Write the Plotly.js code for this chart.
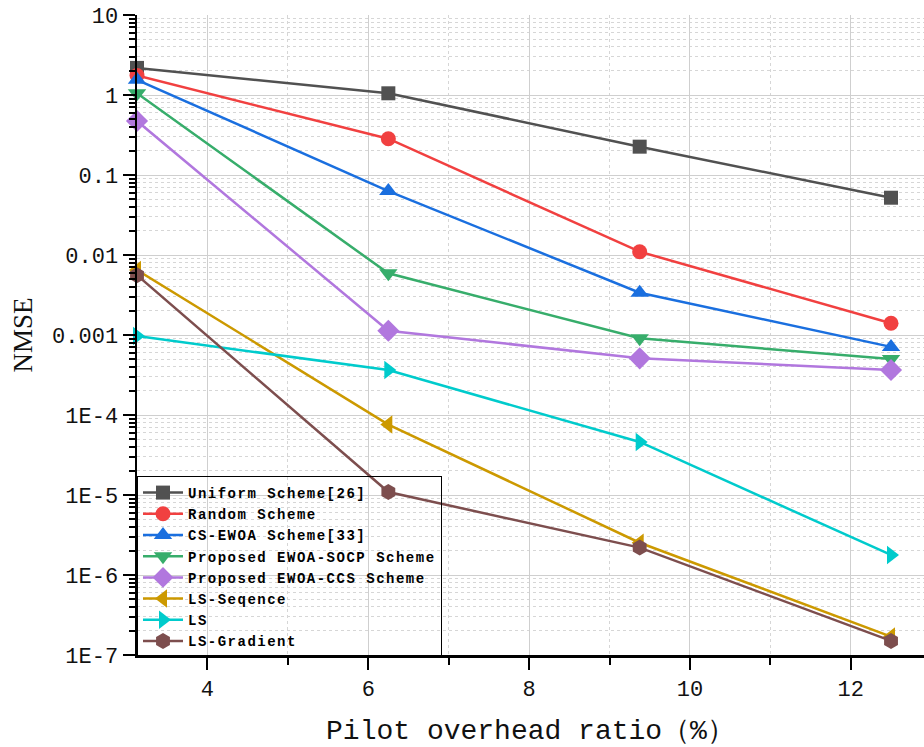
<!DOCTYPE html>
<html>
<head>
<meta charset="utf-8">
<script src="https://cdn.plot.ly/plotly-3.0.1.min.js"></script>
<style>
  html, body { margin: 0; padding: 0; background: #fff; }
  #chart { width: 924px; height: 747px; }
  .legendtext { letter-spacing: 1.5px; }
</style>
</head>
<body>
<div id="chart"></div>
<script>
// Pilot overhead ratio (%) on the x axis
const pilotRatio = [3.125, 6.25, 9.375, 12.5];

// NMSE for each scheme
const uniformScheme   = [2.18, 1.05, 0.226, 0.052];
const randomScheme    = [1.75, 0.284, 0.011, 0.0014];
const csEwoaScheme    = [1.55, 0.063, 0.00338, 0.00071];
const ewoaSocpScheme  = [1.05, 0.0059, 0.00091, 0.0005];
const ewoaCcsScheme   = [0.473, 0.00113, 0.000511, 0.000365];
const lsSequence      = [0.0065, 7.6e-5, 2.53e-6, 1.7e-7];
const lsPlain         = [0.00097, 3.65e-4, 4.6e-5, 1.78e-6];
const lsGradient      = [0.0056, 1.09e-5, 2.2e-6, 1.5e-7];

const seriesNames = [
  'Uniform Scheme[26]', 'Random Scheme', 'CS-EWOA Scheme[33]',
  'Proposed EWOA-SOCP Scheme', 'Proposed EWOA-CCS Scheme',
  'LS-Seqence', 'LS', 'LS-Gradient'
];

// y tick labels at each decade
const yTickVals = [1e-7, 1e-6, 1e-5, 1e-4, 1e-3, 1e-2, 1e-1, 1, 10];
const yTickText = ['1E-7', '1E-6', '1E-5', '1E-4', '0.001', '0.01', '0.1', '1', '10'];
const xTickVals = [4, 6, 8, 10, 12];
const xTickText = ['4', '6', '8', '10', '12'];

const seriesValues = [uniformScheme, randomScheme, csEwoaScheme, ewoaSocpScheme,
                      ewoaCcsScheme, lsSequence, lsPlain, lsGradient];
const colors  = ['#515151', '#F14040', '#1A6FDF', '#37AD6B', '#B177DE', '#CC9900', '#00CBCC', '#7D4E4E'];
const symbols = ['square', 'circle', 'triangle-up', 'triangle-down', 'diamond',
                 'triangle-left', 'triangle-right', 'hexagon'];
const sizes   = [14, 15, 16, 16, 17, 16, 16, 16];

const traces = seriesValues.map((vals, i) => ({
  x: pilotRatio,
  y: vals,
  name: seriesNames[i],
  type: 'scatter',
  mode: 'lines+markers',
  cliponaxis: false,
  line: { color: colors[i], width: 2.5 },
  marker: { symbol: symbols[i], size: sizes[i], color: colors[i], line: { width: 0 } }
}));

// minor tick positions 2..9 within each decade
const yMinor = [];
for (let e = -7; e < 1; e++) {
  for (let m = 2; m <= 9; m++) yMinor.push(m * Math.pow(10, e));
}

const tickFont = { family: 'Liberation Mono, monospace', size: 22, color: '#111' };

const layout = {
  width: 924,
  height: 747,
  margin: { l: 137, r: 0, t: 15, b: 92 },
  paper_bgcolor: '#fff',
  plot_bgcolor: '#fff',
  showlegend: true,
  xaxis: {
    type: 'linear',
    range: [3.125, 12.91],
    tickmode: 'array',
    tickvals: xTickVals,
    ticktext: xTickText,
    ticks: 'outside',
    ticklen: 12,
    tickwidth: 2,
    tickcolor: '#000',
    showline: true,
    linecolor: '#000',
    linewidth: 2.5,
    showgrid: true,
    gridcolor: '#cfcfcf',
    gridwidth: 1,
    zeroline: false,
    tickfont: tickFont,
    minor: {
      tickmode: 'array',
      tickvals: [5, 7, 9, 11],
      ticks: 'outside',
      ticklen: 7,
      tickwidth: 2,
      tickcolor: '#000',
      showgrid: true,
      gridcolor: '#d6d6d6',
      griddash: 'dot',
      gridwidth: 1
    },
    title: {
      text: 'Pilot overhead ratio（%）',
      font: { family: 'Liberation Mono, monospace', size: 28, color: '#111' },
      standoff: 20
    }
  },
  yaxis: {
    type: 'log',
    range: [-7, 1],
    tickmode: 'array',
    tickvals: yTickVals,
    ticktext: yTickText,
    ticks: 'outside',
    ticklen: 12,
    tickwidth: 2,
    tickcolor: '#000',
    showline: true,
    linecolor: '#000',
    linewidth: 2.5,
    showgrid: true,
    gridcolor: '#cfcfcf',
    gridwidth: 1,
    zeroline: false,
    tickfont: tickFont,
    minor: {
      tickmode: 'array',
      tickvals: yMinor,
      ticks: 'outside',
      ticklen: 6,
      tickwidth: 2,
      tickcolor: '#000',
      showgrid: true,
      gridcolor: '#d6d6d6',
      griddash: 'dot',
      gridwidth: 1
    },
    title: {
      text: 'NMSE',
      font: { family: 'Liberation Serif, serif', size: 27, color: '#111' },
      standoff: 12
    }
  },
  legend: {
    x: 0,
    y: 0.2797,
    xanchor: 'left',
    yanchor: 'top',
    bgcolor: 'rgba(255,255,255,0)',
    bordercolor: '#000',
    borderwidth: 1,
    itemwidth: 40,
    tracegroupgap: 0,
    font: { family: 'Liberation Mono, monospace', size: 14, color: '#000', weight: 'bold' }
  }
};

Plotly.newPlot('chart', traces, layout, { displayModeBar: false, staticPlot: true });
</script>
</body>
</html>
